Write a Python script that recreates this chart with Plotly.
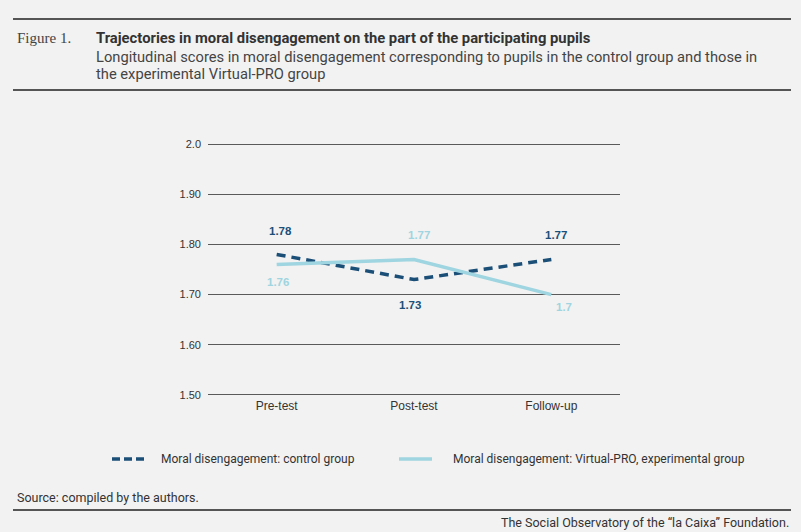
import plotly.graph_objects as go

# data
stages = ['Pre-test', 'Post-test', 'Follow-up']
control = [1.78, 1.73, 1.77]
virtual_pro = [1.76, 1.77, 1.70]
control_labels = ['1.78', '1.73', '1.77']
virtual_labels = ['1.76', '1.77', '1.7']
y_ticks = [1.5, 1.6, 1.7, 1.8, 1.9, 2.0]
y_ticktext = ['1.50', '1.60', '1.70', '1.80', '1.90', '2.0']
series_names = ['Moral disengagement: control group',
                'Moral disengagement: Virtual-PRO, experimental group']

DARK = '#1b4f78'
LIGHT = '#9fd5e0'
BG = '#f2f2f2'
TXT = '#333333'

fig = go.Figure()
fig.add_trace(go.Scatter(x=stages, y=control, mode='lines', name=series_names[0],
                         line=dict(color=DARK, width=3.5, dash='9px,6px')))
fig.add_trace(go.Scatter(x=stages, y=virtual_pro, mode='lines', name=series_names[1],
                         line=dict(color=LIGHT, width=3.5)))

# value labels
ctrl_shift = [(4, 23), (-4, -25), (5, 24)]
virt_shift = [(1, -18), (5, 24), (13, -12)]
for i, s in enumerate(stages):
    fig.add_annotation(x=s, y=control[i], text='<b>' + control_labels[i] + '</b>',
                       showarrow=False, xshift=ctrl_shift[i][0], yshift=ctrl_shift[i][1],
                       font=dict(color=DARK, size=11.5, family='Liberation Sans'))
    fig.add_annotation(x=s, y=virtual_pro[i], text='<b>' + virtual_labels[i] + '</b>',
                       showarrow=False, xshift=virt_shift[i][0], yshift=virt_shift[i][1],
                       font=dict(color=LIGHT, size=11.5, family='Liberation Sans'))

# helpers: pixel -> paper coords (plot area 208..620 x, 142..397 y)
def px(x):
    return (x - 208) / 412

def py(y):
    return (397 - y) / 255

def note(x, y, text, size, family='Roboto', color=TXT, xanchor='left'):
    fig.add_annotation(xref='paper', yref='paper', x=px(x), y=py(y), xanchor=xanchor,
                       yanchor='middle', text=text, showarrow=False,
                       font=dict(family=family, size=size, color=color))

# header
note(15, 38, 'Figure 1.', 15, family='Liberation Serif', color='#444')
note(94, 38, '<b>Trajectories in moral disengagement on the part of the participating pupils</b>', 14.8)
note(94, 57, 'Longitudinal scores in moral disengagement corresponding to pupils in the control group and those in',
     14.7, color='#444')
note(94, 74, 'the experimental Virtual-PRO group', 14.7, color='#444')

# legend, drawn by hand
leg_keys = [(112, 144), (399, 432)]
leg_text_x = [159, 451]
leg_styles = [dict(color=DARK, width=3.5, dash='8px,4px'), dict(color=LIGHT, width=3.5)]
for k in range(2):
    fig.add_shape(type='line', xref='paper', yref='paper', x0=px(leg_keys[k][0]), x1=px(leg_keys[k][1]),
                  y0=py(459), y1=py(459), line=leg_styles[k])
    note(leg_text_x[k], 459, series_names[k], 12)

# footer
note(15, 497, 'Source: compiled by the authors.', 12.5)
note(791, 522, 'The Social Observatory of the \u201cla Caixa\u201d Foundation.', 12.5, xanchor='right')

# rules
for yy in [19, 90, 510]:
    fig.add_shape(type='line', xref='paper', yref='paper', x0=px(13), x1=px(791), y0=py(yy), y1=py(yy),
                  line=dict(color='#555', width=2))

fig.update_layout(
    width=801, height=532,
    margin=dict(l=208, r=181, t=142, b=135),
    paper_bgcolor=BG, plot_bgcolor=BG,
    font=dict(family='Liberation Sans', size=12, color=TXT),
    showlegend=False,
)
fig.update_xaxes(showgrid=False, zeroline=False, showline=False, ticks='',
                 range=[-0.5, 2.5], tickfont=dict(size=12, color=TXT))
fig.update_yaxes(range=[1.496, 2.004], tickvals=y_ticks, ticktext=y_ticktext,
                 showgrid=True, gridcolor='#5a5a5a', gridwidth=1.2, zeroline=False,
                 showline=False, ticks='', ticklabelstandoff=6,
                 tickfont=dict(size=11, color=TXT))

# remove the page's default body margin so the figure sits at the window origin
fig.write_html('out.html', config={'displayModeBar': False},
               post_script="document.body.style.margin='0px';")
